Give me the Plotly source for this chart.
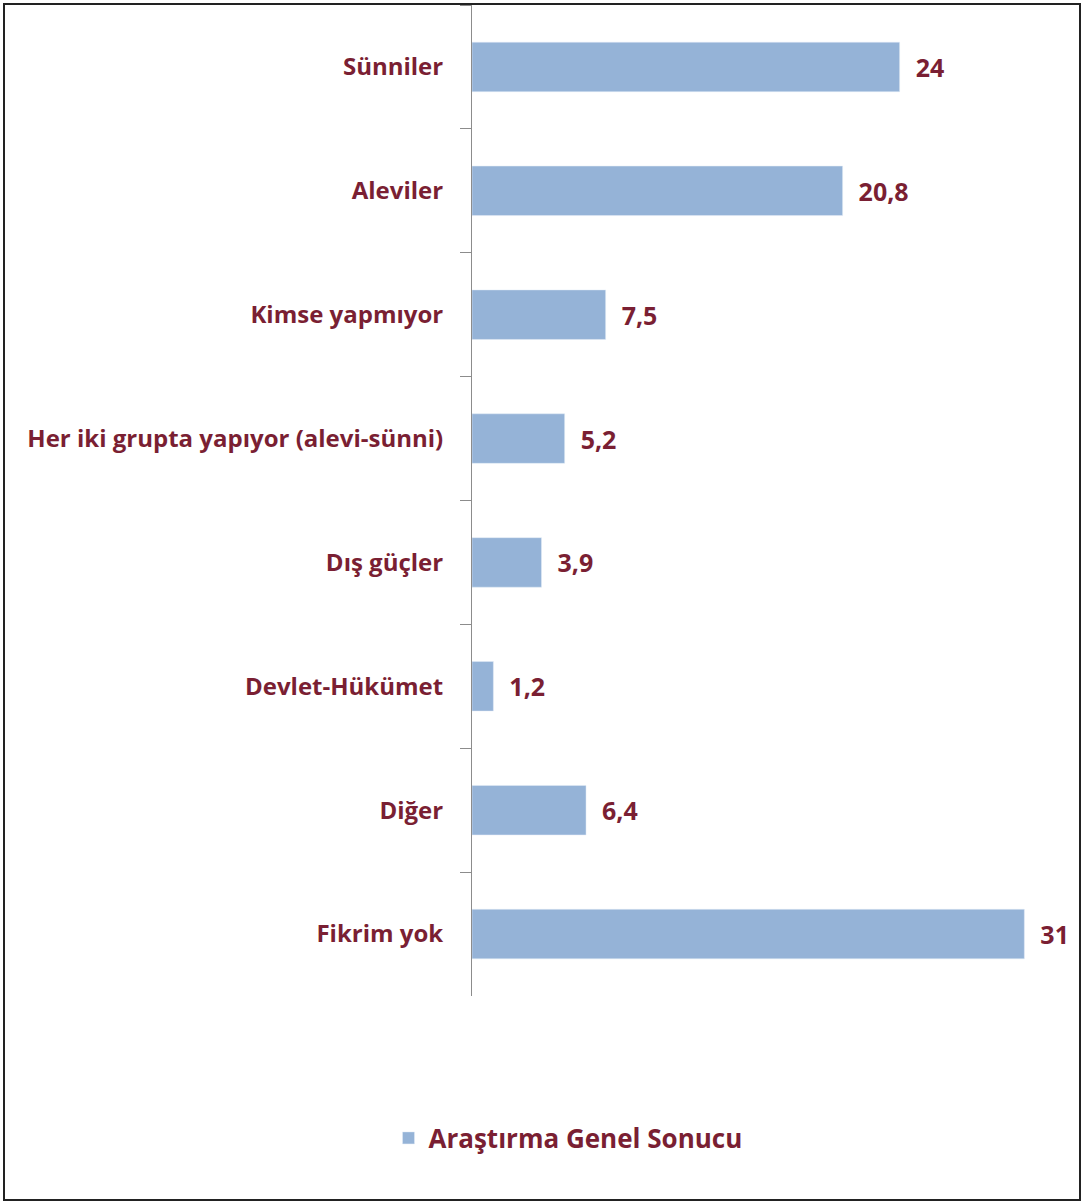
import plotly.graph_objects as go

categories = ["Sünniler", "Aleviler", "Kimse yapmıyor", "Her iki grupta yapıyor (alevi-sünni)",
              "Dış güçler", "Devlet-Hükümet", "Diğer", "Fikrim yok"]
values = [24, 20.8, 7.5, 5.2, 3.9, 1.2, 6.4, 31]
series_name = "Araştırma Genel Sonucu"

label_color = "#7a1f33"
bar_color = "#95b3d7"

# plot area in pixels
L, T, PW, PH = 472, 5, 588, 991

fig = go.Figure()
fig.add_trace(go.Bar(
    y=categories,
    x=values,
    orientation="h",
    name=series_name,
    marker=dict(color=bar_color),
    text=["  " + f"{v:g}".replace(".", ",") for v in values],
    textposition="outside",
    textfont=dict(color=label_color, size=25, family="Open Sans", weight="bold"),
    cliponaxis=False,
    showlegend=True,
))

fig.update_layout(
    width=1090,
    height=1203,
    margin=dict(l=L, r=1090 - L - PW, t=T, b=1203 - T - PH),
    plot_bgcolor="white",
    paper_bgcolor="white",
    bargap=0.6,
    font=dict(family="Open Sans", color=label_color),
    xaxis=dict(range=[0, 33], visible=False),
    yaxis=dict(
        autorange="reversed",
        showline=True, linecolor="#8c8c8c", linewidth=1,
        ticks="outside", tickson="boundaries", ticklen=11, tickcolor="#8c8c8c",
        ticklabelstandoff=23,
        tickfont=dict(size=24, color=label_color, family="Open Sans", weight="bold"),
        showgrid=False,
    ),
    legend=dict(
        orientation="h", x=(568 - L) / PW, xanchor="center",
        y=-(1138 - (T + PH)) / PH, yanchor="middle",
        font=dict(size=26, color=label_color, family="Open Sans", weight="bold"),
    ),
    shapes=[dict(type="rect", xref="paper", yref="paper",
                 x0=(4 - L) / PW, x1=(1080 - L) / PW,
                 y0=-(1200 - (T + PH)) / PH, y1=(T + PH - 4) / PH,
                 line=dict(color="#222222", width=2))],
)

fig.write_html("out.html", config=dict(displayModeBar=False),
               post_script="document.body.style.margin='0px';")
